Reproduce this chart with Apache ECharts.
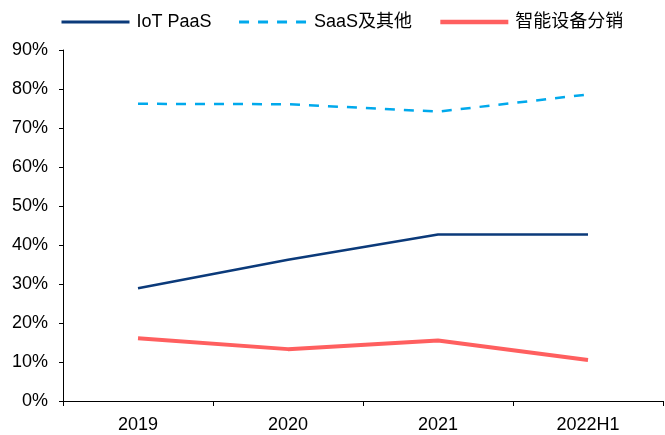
<!DOCTYPE html>
<html>
<head>
<meta charset="utf-8">
<script src="https://cdn.jsdelivr.net/npm/echarts@6/dist/echarts.min.js"></script>
<style>
  html, body { margin: 0; padding: 0; background: #fff; }
  #main { width: 665px; height: 435px; }
</style>
</head>
<body>
<div id="main"></div>
<script>
// 数据
var categories = ["2019", "2020", "2021", "2022H1"];
var seriesNames = ["IoT PaaS", "SaaS及其他", "智能设备分销"];
var iotPaas = [28.9, 36.2, 42.7, 42.7];
var saasOther = [76.2, 76.1, 74.2, 78.6];
var deviceDist = [16.1, 13.3, 15.5, 10.5];

var myChart = echarts.init(document.getElementById("main"));
var font = "Arial, 'Liberation Sans', 'Noto Sans CJK SC', sans-serif";

var option = {
    animation: false,
    textStyle: { fontFamily: font },
    legend: {
        left: 55,
        top: 8,
        itemWidth: 68,
        itemHeight: 14,
        itemGap: 26,
        itemStyle: { opacity: 0 },
        textStyle: { fontSize: 18, color: "#000", fontFamily: font, padding: [0, 0, 0, 2] },
        data: [
            { name: seriesNames[0], lineStyle: { width: 3 } },
            { name: seriesNames[1], lineStyle: { width: 3 } },
            { name: seriesNames[2], lineStyle: { width: 4.5 } }
        ]
    },
    grid: { left: 63, right: 2, top: 50, bottom: 34 },
    xAxis: {
        type: "category",
        data: categories,
        boundaryGap: true,
        axisLine: { lineStyle: { color: "#000", width: 1 } },
        axisTick: { show: true, length: 5, lineStyle: { color: "#000" } },
        axisLabel: { fontSize: 18, color: "#000", margin: 15 }
    },
    yAxis: {
        type: "value",
        min: 0,
        max: 90,
        interval: 10,
        splitLine: { show: false },
        axisLine: { show: true, lineStyle: { color: "#000", width: 1 } },
        axisTick: { show: true, length: 4, lineStyle: { color: "#000" } },
        axisLabel: { fontSize: 18, color: "#000", margin: 15, formatter: "{value}%" }
    },
    series: [
        {
            name: seriesNames[0],
            type: "line",
            data: iotPaas,
            symbol: "none",
            lineStyle: { color: "#0B3A7A", width: 2.5 },
            itemStyle: { color: "#0B3A7A" }
        },
        {
            name: seriesNames[1],
            type: "line",
            data: saasOther,
            symbol: "none",
            lineStyle: { color: "#00A9EC", width: 2.5, type: [10, 9] },
            itemStyle: { color: "#00A9EC" }
        },
        {
            name: seriesNames[2],
            type: "line",
            data: deviceDist,
            symbol: "none",
            lineStyle: { color: "#FF5F5F", width: 4 },
            itemStyle: { color: "#FF5F5F" }
        }
    ]
};
myChart.setOption(option);
</script>
</body>
</html>
